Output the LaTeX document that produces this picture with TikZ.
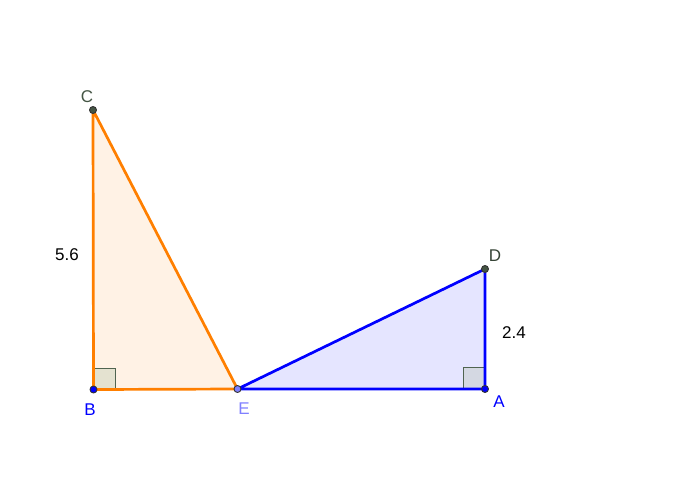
\documentclass[tikz,border=0pt]{standalone}
\usepackage{fontspec}
\setmainfont{Liberation Sans}
\usetikzlibrary{positioning}

\definecolor{orangeline}{RGB}{255,127,0}
\definecolor{orangefill}{RGB}{255,242,229}
\definecolor{blueline}{RGB}{0,0,255}
\definecolor{bluefill}{RGB}{229,229,255}
\definecolor{anglefillb}{RGB}{228,226,208}
\definecolor{anglefilla}{RGB}{212,216,226}
\definecolor{angleline}{RGB}{80,100,80}
\definecolor{darkpt}{RGB}{68,85,68}
\definecolor{lightpt}{RGB}{128,128,255}

\tikzset{
	pt/.style={circle, inner sep=0pt, minimum size=7pt, draw=black!80, line width=0.9pt},
	lbl/.style={font=\fontsize{17}{19}\selectfont, inner sep=1pt},
	rightangle/.style={draw=angleline, line width=1pt},
}

\begin{document}
\begin{tikzpicture}[x=1pt,y=-1pt]
		\useasboundingbox (0,0) rectangle (700,500);
		\coordinate (c) at (93,110);
		\coordinate (b) at (93.5,389.5);
		\coordinate (e) at (237.5,389);
		\coordinate (a) at (485,389);
		\coordinate (d) at (485,269);
		% triangles
		\fill[orangefill] (b) -- (c) -- (e) -- cycle;
		\fill[bluefill] (e) -- (a) -- (d) -- cycle;
		% right angles
		\filldraw[rightangle, fill=anglefillb] (93.5,368) rectangle (115,389.5);
		\filldraw[rightangle, fill=anglefilla] (463.5,367.5) rectangle (485,389);
		% sides
		\draw[orangeline, line width=2.7pt, line join=round]
			(b) -- (c) -- (e) -- cycle;
		\draw[blueline, line width=2.7pt, line join=round]
			(e) -- (a) -- (d) -- cycle;
		% points
		\draw
			(c) node [pt, fill=darkpt] (pc) {}
			(b) node [pt, fill=blueline] (pb) {}
			(e) node [pt, fill=lightpt] (pe) {}
			(a) node [pt, fill=blueline] (pa) {}
			(d) node [pt, fill=darkpt] (pd) {}
			;
		% labels
		\node [lbl, text=darkpt] at (87,97) {C};
		\node [lbl, text=blueline] at (90,410) {B};
		\node [lbl, text=lightpt] at (244,409) {E};
		\node [lbl, text=blueline] at (499,402) {A};
		\node [lbl, text=darkpt!80!black] at (495,256) {D};
		\node [lbl] at (67,255) {5.6};
		\node [lbl] at (514,333) {2.4};
	\end{tikzpicture}
\end{document}
